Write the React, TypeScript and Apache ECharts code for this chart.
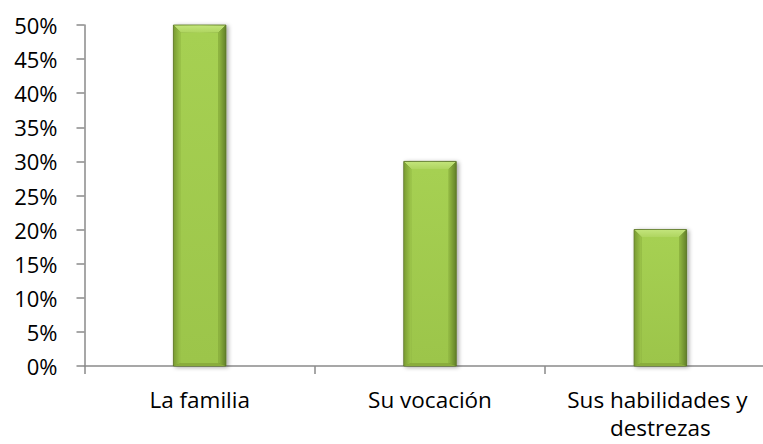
import React, { useEffect, useRef } from "react";
import * as echarts from "echarts";

const categories = ["La familia", "Su vocación", "Sus habilidades y destrezas"];
const values = [50, 30, 20];
const yTicks = [0, 5, 10, 15, 20, 25, 30, 35, 40, 45, 50];

export default function App() {
  const ref = useRef<HTMLDivElement>(null);
  useEffect(() => {
    if (!ref.current) return;
    const chart = echarts.init(ref.current, null, { renderer: "svg" });
    const font = "'Open Sans', 'Noto Sans', sans-serif";
    chart.setOption({
      animation: false,
      grid: { left: 84.5, top: 25, width: 691, height: 341, containLabel: false, outerBoundsMode: "none" },
      xAxis: {
        type: "category",
        data: categories,
        axisLine: { lineStyle: { color: "#8a8a8a", width: 1.5 } },
        axisTick: { show: true, length: 8, alignWithLabel: false, lineStyle: { color: "#8a8a8a", width: 1.5 } },
        axisLabel: {
          color: "#000",
          fontFamily: font,
          fontSize: 22.5,
          margin: 19,
          lineHeight: 28,
          width: 210,
          overflow: "break",
          interval: 0,
        },
        splitLine: { show: false },
      },
      yAxis: {
        type: "value",
        min: 0,
        max: 50,
        interval: 5,
        axisLine: { show: true, lineStyle: { color: "#8a8a8a", width: 1.5 } },
        axisTick: { show: true, length: 8, lineStyle: { color: "#8a8a8a", width: 1.5 } },
        axisLabel: {
          color: "#000",
          fontFamily: font,
          fontSize: 22,
          margin: 27,
          formatter: (v: number) => (yTicks.includes(v) ? v + "%" : ""),
        },
        splitLine: { show: false },
      },
      series: [
        {
          type: "custom",
          data: values.map((v, i) => [i, v]),
          encode: { x: 0, y: 1 },
          renderItem: (params: any, api: any) => {
            const idx = api.value(0);
            const val = api.value(1);
            const top = api.coord([idx, val]);
            const bottom = api.coord([idx, 0]);
            const band = api.size([1, 0])[0];
            const w = band * 0.228;
            const x0 = top[0] - w / 2;
            const x1 = top[0] + w / 2;
            const y0 = top[1];
            const y1 = bottom[1];
            const b = 7.5;
            const bb = 3;
            return {
              type: "group",
              children: [
                {
                  type: "rect",
                  shape: { x: x0, y: y0, width: w, height: y1 - y0 },
                  style: {
                    fill: new echarts.graphic.LinearGradient(0, 0, 1, 0, [
                      { offset: 0, color: "#6e8e2c" },
                      { offset: 0.5, color: "#a4cc52" },
                      { offset: 1, color: "#5c7a22" },
                    ]),
                    stroke: "#55711f",
                    lineWidth: 0.8,
                    shadowColor: "rgba(0,0,0,0.35)",
                    shadowBlur: 4,
                    shadowOffsetX: 2,
                    shadowOffsetY: 1,
                  },
                },
                {
                  type: "rect",
                  shape: { x: x0 + b, y: y0 + b, width: w - 2 * b, height: y1 - y0 - b - bb },
                  style: {
                    fill: new echarts.graphic.LinearGradient(0, 0, 0, 1, [
                      { offset: 0, color: "#a6d052" },
                      { offset: 1, color: "#9cc54a" },
                    ]),
                  },
                },
                {
                  type: "polygon",
                  shape: { points: [[x0 + 0.5, y0 + 0.5], [x1 - 0.5, y0 + 0.5], [x1 - b, y0 + b], [x0 + b, y0 + b]] },
                  style: {
                    fill: new echarts.graphic.LinearGradient(0, 0, 0, 1, [
                      { offset: 0, color: "#c2e47a" },
                      { offset: 1, color: "#afd560" },
                    ]),
                  },
                },
                {
                  type: "polygon",
                  shape: { points: [[x0 + 0.5, y0 + 0.5], [x0 + b, y0 + b], [x0 + b, y1 - bb], [x0 + 0.5, y1]] },
                  style: {
                    fill: new echarts.graphic.LinearGradient(0, 0, 1, 0, [
                      { offset: 0, color: "#7b9d33" },
                      { offset: 1, color: "#9ec74b" },
                    ]),
                  },
                },
                {
                  type: "polygon",
                  shape: { points: [[x1 - 0.5, y0 + 0.5], [x1 - 0.5, y1], [x1 - b, y1 - bb], [x1 - b, y0 + b]] },
                  style: {
                    fill: new echarts.graphic.LinearGradient(0, 0, 1, 0, [
                      { offset: 0, color: "#93ba42" },
                      { offset: 1, color: "#65842a" },
                    ]),
                  },
                },
                {
                  type: "polygon",
                  shape: { points: [[x0 + 0.5, y1], [x0 + b, y1 - bb], [x1 - b, y1 - bb], [x1 - 0.5, y1]] },
                  style: { fill: "#8aad3c" },
                },
              ],
            };
          },
        },
      ],
    });
    return () => chart.dispose();
  }, []);
  return <div ref={ref} style={{ width: 763, height: 444, position: "absolute", left: 0, top: 0, background: "#fff" }} />;
}
